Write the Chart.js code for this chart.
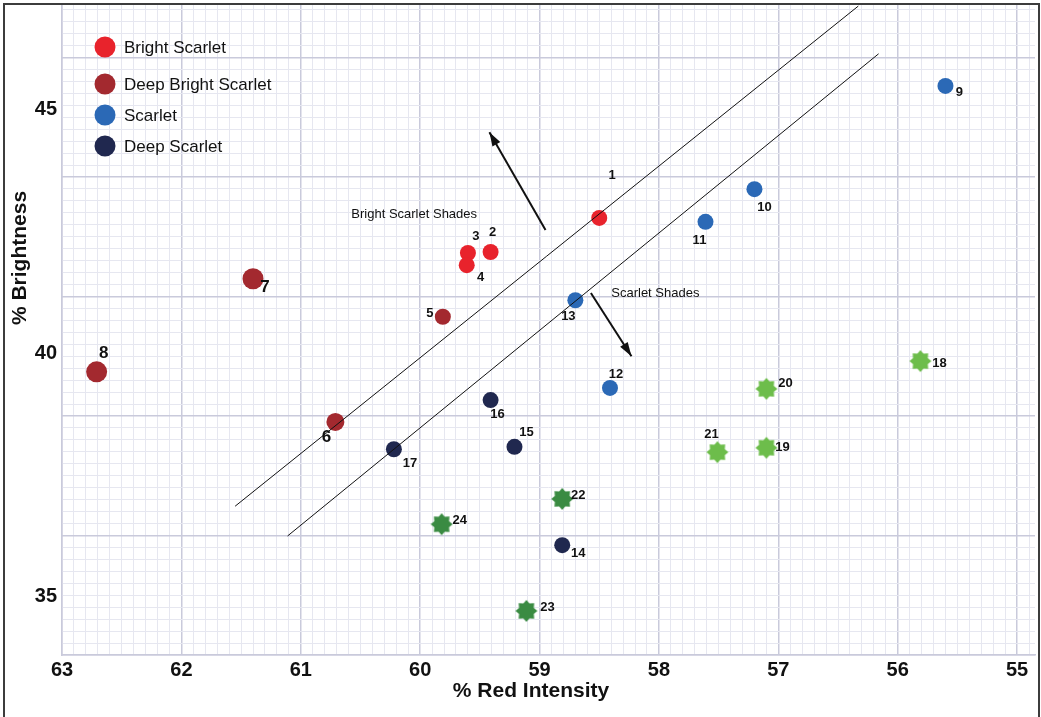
<!DOCTYPE html>
<html lang="en">
<head>
    <meta charset="UTF-8">
    <title>Scarlet shades</title>
    <style>
        body { margin: 0; background: #fff; overflow: hidden; }
        #wrap { position: relative; width: 1041px; height: 717px; }
        #frame {
            position: absolute; left: 3px; top: 3px; width: 1033px; height: 730px;
            border: 2px solid #3c3c3c; pointer-events: none;
        }
    </style>
</head>
<body>
    <div id="wrap">
        <canvas id="shadeChart" width="1041" height="717"></canvas>
        <div id="frame"></div>
    </div>

    <script src="https://cdn.jsdelivr.net/npm/chart.js"></script>
    <script>
        // values
        const brightScarletX = [58.50, 59.41, 59.60, 59.61];
        const brightScarletY = [42.78, 42.08, 42.06, 41.81];
        const brightScarletIds = [1, 2, 3, 4];

        const deepBrightX = [59.81, 60.71, 61.40, 62.71];
        const deepBrightY = [40.75, 38.59, 41.53, 39.62];
        const deepBrightIds = [5, 6, 7, 8];

        const scarletX = [55.60, 57.20, 57.61, 58.41, 58.70];
        const scarletY = [45.49, 43.37, 42.70, 39.29, 41.09];
        const scarletIds = [9, 10, 11, 12, 13];

        const deepScarletX = [58.81, 59.21, 59.41, 60.22];
        const deepScarletY = [36.06, 38.08, 39.04, 38.03];
        const deepScarletIds = [14, 15, 16, 17];

        const lightGreenX = [55.81, 57.10, 57.10, 57.51];
        const lightGreenY = [39.84, 38.06, 39.27, 37.97];
        const lightGreenIds = [18, 19, 20, 21];

        const darkGreenX = [58.81, 59.11, 59.82];
        const darkGreenY = [37.01, 34.71, 36.49];
        const darkGreenIds = [22, 23, 24];

        // boundary lines and arrows
        const upperLineX = [61.55, 56.33];
        const upperLineY = [36.86, 47.13];
        const lowerLineX = [61.11, 56.16];
        const lowerLineY = [36.25, 46.15];
        const brightArrowX = [58.95, 59.42];
        const brightArrowY = [42.53, 44.54];
        const scarletArrowX = [58.57, 58.23];
        const scarletArrowY = [41.24, 39.94];

        const xTicks = [63, 62, 61, 60, 59, 58, 57, 56, 55];
        const yTicks = [35, 40, 45];

        // where each number sits next to its marker (px)
        const labelShift = {
            1: [13, -42], 2: [2, -20], 3: [8, -17], 4: [14, 12], 5: [-13, -3], 6: [-9, 15],
            7: [12, 9], 8: [7, -18], 9: [14, 6], 10: [10, 18], 11: [-6, 19], 12: [6, -13],
            13: [-7, 16], 14: [16, 8], 15: [12, -14], 16: [7, 14], 17: [16, 14], 18: [19, 2],
            19: [16, 0], 20: [19, -5], 21: [-6, -18], 22: [16, -3], 23: [21, -4], 24: [18, -4]
        };
        const bigLabels = [6, 7, 8];

        const legendItems = [
            ['Bright Scarlet', '#e8232c'],
            ['Deep Bright Scarlet', '#a3292f'],
            ['Scarlet', '#2b69b6'],
            ['Deep Scarlet', '#20284f']
        ];

        const MAJOR = '#c9cadb';
        const MINOR = '#e6e7f0';

        const pts = (xs, ys) => xs.map((x, i) => ({ x: x, y: ys[i] }));

        // 8 pointed star marker
        function makeStar(color) {
            const c = document.createElement('canvas');
            c.width = 24; c.height = 24;
            const g = c.getContext('2d');
            g.fillStyle = color;
            g.beginPath();
            for (let i = 0; i < 16; i++) {
                const r = i % 2 === 0 ? 11 : 8;
                const a = -Math.PI / 2 + i * Math.PI / 8;
                const px = 12 + r * Math.cos(a), py = 12 + r * Math.sin(a);
                if (i === 0) g.moveTo(px, py); else g.lineTo(px, py);
            }
            g.closePath();
            g.fill();
            return c;
        }

        function dotSet(xs, ys, ids, color, radius) {
            return {
                data: pts(xs, ys), ids: ids,
                backgroundColor: color, borderWidth: 0,
                pointRadius: radius, pointHoverRadius: radius
            };
        }

        function lineSet(xs, ys, width, arrow) {
            return {
                data: pts(xs, ys), showLine: true, arrow: arrow,
                borderColor: '#111', borderWidth: width,
                pointRadius: 0, pointHoverRadius: 0, fill: false
            };
        }

        const isMajor = v => Math.abs(v - Math.round(v)) < 1e-6;

        // drop the label overhang chart.js reserves around the plot
        const noOverhang = s => {
            s.paddingTop = 0; s.paddingBottom = 0; s.paddingLeft = 0; s.paddingRight = 0;
        };

        const labelsPlugin = {
            id: 'labels',
            afterDatasetsDraw(chart) {
                const ctx = chart.ctx;
                const sx = chart.scales.x, sy = chart.scales.y;
                ctx.save();
                ctx.fillStyle = '#111';
                ctx.textAlign = 'center';
                ctx.textBaseline = 'middle';
                chart.data.datasets.forEach((ds, di) => {
                    const meta = chart.getDatasetMeta(di);
                    if (ds.ids) {
                        meta.data.forEach((el, j) => {
                            const id = ds.ids[j];
                            const s = labelShift[id];
                            ctx.font = bigLabels.includes(id) ? 'bold 17px "Liberation Sans", Arial' : 'bold 13px "Liberation Sans", Arial';
                            ctx.fillText(String(id), el.x + s[0], el.y + s[1]);
                        });
                    }
                    if (ds.arrow) {
                        const a = meta.data[0], b = meta.data[1];
                        const ang = Math.atan2(b.y - a.y, b.x - a.x);
                        ctx.beginPath();
                        ctx.moveTo(b.x, b.y);
                        ctx.lineTo(b.x - 14 * Math.cos(ang) + 4.5 * Math.sin(ang), b.y - 14 * Math.sin(ang) - 4.5 * Math.cos(ang));
                        ctx.lineTo(b.x - 14 * Math.cos(ang) - 4.5 * Math.sin(ang), b.y - 14 * Math.sin(ang) + 4.5 * Math.cos(ang));
                        ctx.closePath();
                        ctx.fill();
                    }
                });

                // region captions
                ctx.font = '13px "Liberation Sans", Arial';
                ctx.fillText('Bright Scarlet Shades', sx.getPixelForValue(60.05), sy.getPixelForValue(42.86));
                ctx.fillText('Scarlet Shades', sx.getPixelForValue(58.03), sy.getPixelForValue(41.22));

                // legend box inside the plot
                ctx.textAlign = 'left';
                ctx.font = '17px "Liberation Sans", Arial';
                const rows = [47, 84, 115, 146];
                legendItems.forEach((it, i) => {
                    ctx.fillStyle = it[1];
                    ctx.beginPath();
                    ctx.arc(105, rows[i], 10.5, 0, Math.PI * 2);
                    ctx.fill();
                    ctx.fillStyle = '#111';
                    ctx.fillText(it[0], 124, rows[i] + 1);
                });

                // axis titles (sit off-centre in the original)
                ctx.font = 'bold 21px "Liberation Sans", Arial';
                ctx.textAlign = 'center';
                ctx.fillText('% Red Intensity', 531, 691);
                ctx.translate(20, 258);
                ctx.rotate(-Math.PI / 2);
                ctx.fillText('% Brightness', 0, 0);
                ctx.restore();
            }
        };

        new Chart(document.getElementById('shadeChart'), {
            type: 'scatter',
            data: {
                datasets: [
                    lineSet(upperLineX, upperLineY, 1, false),
                    lineSet(lowerLineX, lowerLineY, 1, false),
                    lineSet(brightArrowX, brightArrowY, 2, true),
                    lineSet(scarletArrowX, scarletArrowY, 2, true),
                    dotSet(brightScarletX, brightScarletY, brightScarletIds, '#e8232c', 8),
                    dotSet(deepBrightX, deepBrightY, deepBrightIds, '#a3292f', [8, 9, 10.5, 10.5]),
                    dotSet(scarletX, scarletY, scarletIds, '#2b69b6', 8),
                    dotSet(deepScarletX, deepScarletY, deepScarletIds, '#20284f', 8),
                    Object.assign(dotSet(lightGreenX, lightGreenY, lightGreenIds, '#6dbd4b', 11), { pointStyle: makeStar('#6dbd4b') }),
                    Object.assign(dotSet(darkGreenX, darkGreenY, darkGreenIds, '#3a8b42', 11), { pointStyle: makeStar('#3a8b42') })
                ]
            },
            options: {
                responsive: false,
                animation: false,
                layout: { autoPadding: false, padding: { top: 5, right: 6, left: 0, bottom: 0 } },
                plugins: { legend: { display: false }, tooltip: { enabled: false } },
                scales: {
                    x: {
                        type: 'linear', reverse: true, min: 54.85, max: 63,
                        afterBuildTicks: s => { s.ticks = xTicks.map(v => ({ value: v })); },
                        ticks: {
                            padding: 3, maxRotation: 0, color: '#111',
                            font: { family: '"Liberation Sans", Arial', size: 20, weight: 'bold' }
                        },
                        grid: { display: false, drawTicks: false },
                        border: { color: MAJOR, width: 1.5 },
                        afterFit: s => { s.height = 62; noOverhang(s); }
                    },
                    y: {
                        type: 'linear', min: 33.805, max: 47.152,
                        afterBuildTicks: s => { s.ticks = yTicks.map(v => ({ value: v })); },
                        ticks: {
                            padding: 5, color: '#111',
                            font: { family: '"Liberation Sans", Arial', size: 20, weight: 'bold' }
                        },
                        grid: { display: false, drawTicks: false },
                        border: { color: MAJOR, width: 1.5 },
                        afterFit: s => { s.width = 62; noOverhang(s); }
                    },
                    // graph paper grid
                    xg: {
                        type: 'linear', position: 'top', reverse: true, min: 54.85, max: 63,
                        ticks: { display: false, stepSize: 0.1, includeBounds: false, autoSkip: false, maxTicksLimit: 1000 },
                        grid: {
                            drawTicks: false,
                            color: c => isMajor(c.tick.value) ? MAJOR : MINOR,
                            lineWidth: c => isMajor(c.tick.value) ? 1.5 : 1
                        },
                        border: { display: false },
                        afterFit: s => { s.height = 0; noOverhang(s); }
                    },
                    yg: {
                        type: 'linear', position: 'right', min: 0, max: 650 / 119.5,
                        ticks: { display: false, stepSize: 0.1, includeBounds: false, autoSkip: false, maxTicksLimit: 1000 },
                        grid: {
                            drawTicks: false,
                            color: c => isMajor(c.tick.value) ? MAJOR : MINOR,
                            lineWidth: c => isMajor(c.tick.value) ? 1.5 : 1
                        },
                        border: { display: false },
                        afterFit: s => { s.width = 0; noOverhang(s); }
                    }
                }
            },
            plugins: [labelsPlugin]
        });
    </script>
</body>
</html>
